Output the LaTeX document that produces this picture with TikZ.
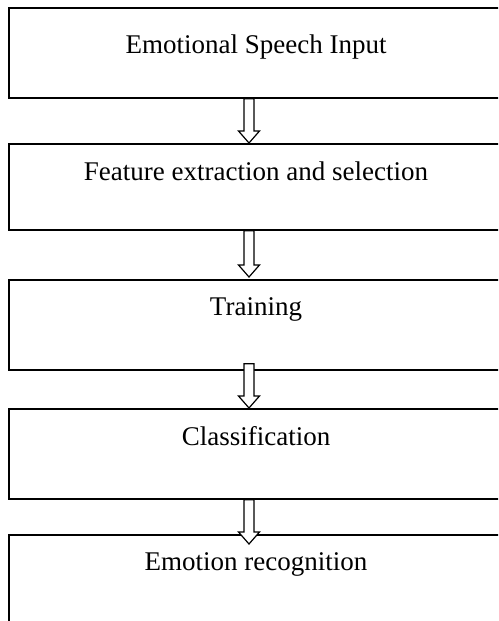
\documentclass[tikz,border=0pt]{standalone}
\usepackage{fontspec}
\setmainfont{Liberation Serif}
\usetikzlibrary{calc}
\newcommand\hollowarrow[2]{%
  \draw[hollow] let \p1=(#1), \p2=(#2) in
    (\x1-5pt,\y1) -- (\x1-5pt,\y2+12pt) -- (\x1-10.5pt,\y2+12pt) -- (\x1,\y2)
    -- (\x1+10.5pt,\y2+12pt) -- (\x1+5pt,\y2+12pt) -- (\x1+5pt,\y1) -- cycle;}
\begin{document}
\begin{tikzpicture}[x=1pt,y=-1pt,
  box/.style={draw, line width=1.7pt, minimum width=500pt, inner sep=0pt, anchor=north west},
  lbl/.style={anchor=base, inner sep=0pt, font=\fontsize{27}{32}\selectfont},
  hollow/.style={draw, fill=white, line width=1.2pt, line join=miter}]
\clip (0,0) rectangle (498,621);
\node[box, minimum height=90pt] (b1) at (8,7) {};
\node[box, minimum height=86pt] (b2) at (8,143) {};
\node[box, minimum height=90pt] (b3) at (8,279) {};
\node[box, minimum height=90pt] (b4) at (8,408) {};
\node[box, minimum height=120pt] (b5) at (8,534) {};
\node[lbl] (t1) at (256,53) {Emotional Speech Input};
\node[lbl] (t2) at (256,180) {Feature extraction and selection};
\node[lbl] (t3) at (256,315) {Training};
\node[lbl] (t4) at (256,445) {Classification};
\node[lbl] (t5) at (256,570) {Emotion recognition};
\coordinate (a1s) at ($(b1.south west)+(241,0)$);
\coordinate (a1t) at ($(b2.north west)+(241,0)$);
\coordinate (a2s) at ($(b2.south west)+(241,0)$);
\coordinate (a2t) at ($(b3.north west)+(241,-2)$);
\coordinate (a3s) at ($(b3.south west)+(241,-7)$);
\coordinate (a3t) at ($(b4.north west)+(241,0)$);
\coordinate (a4s) at ($(b4.south west)+(241,0)$);
\coordinate (a4t) at ($(b5.north west)+(241,10)$);
\hollowarrow{a1s}{a1t}
\hollowarrow{a2s}{a2t}
\hollowarrow{a3s}{a3t}
\hollowarrow{a4s}{a4t}
\end{tikzpicture}
\end{document}
